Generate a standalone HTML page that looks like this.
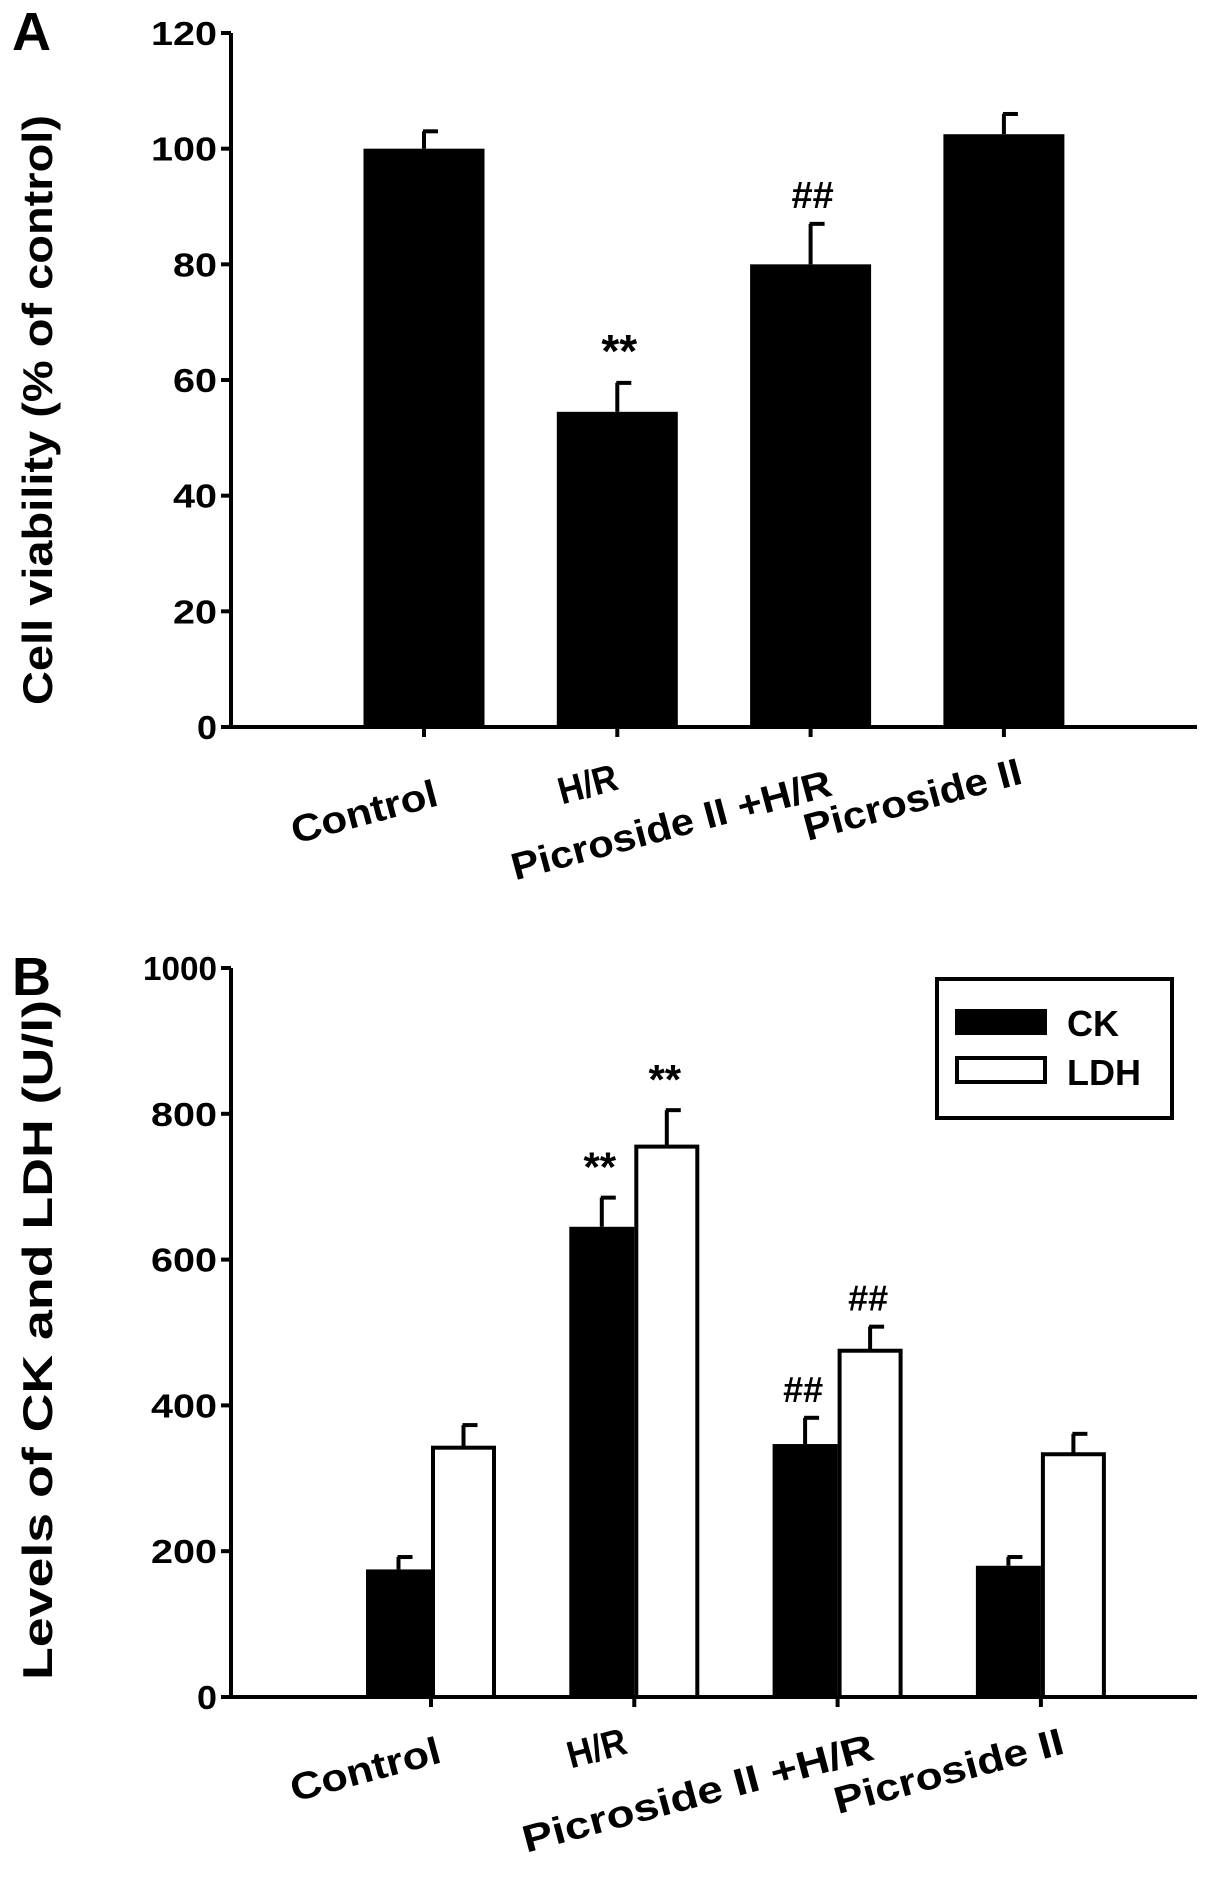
<!DOCTYPE html>
<html><head><meta charset="utf-8"><style>
html,body{margin:0;padding:0;background:#fff;}
svg{display:block;}
text{font-family:"Liberation Sans",sans-serif;font-weight:bold;fill:#000;}
</style></head><body>
<svg id="fig" width="1205" height="1880" viewBox="0 0 1205 1880" xmlns="http://www.w3.org/2000/svg"></svg>
<script>
const catsA = ["Control","H/R","Picroside II +H/R","Picroside II"];
const valsA = [100,54.5,80,102.5];
const errA = [3,5,7,3.5];
const sigA = ["","**","##",""];
const ticksA = [0,20,40,60,80,100,120];

const catsB = ["Control","H/R","Picroside II +H/R","Picroside II"];
const ckB = [175,645,347,180];
const ckErr = [17,40,36,12];
const ldhB = [342,755,475,333];
const ldhErr = [31,50,33,28];
const sigCK = ["","**","##",""];
const sigLDH = ["","**","##",""];
const ticksB = [0,200,400,600,800,1000];

const NS="http://www.w3.org/2000/svg";
const svg=document.getElementById('fig');
function mk(tag,attrs,parent,txt){const e=document.createElementNS(NS,tag);for(const k in attrs)e.setAttribute(k,attrs[k]);if(txt!==undefined)e.textContent=txt;(parent||svg).appendChild(e);return e;}
const digitLen={1:20,2:44,3:66,4:74};

// ---------- Panel A ----------
const A={x0:231,x1:1197,y0:727,y1:33,max:120,c0:424,step:193.3,bw:121};
function yA(v){return A.y0-(v/A.max)*(A.y0-A.y1);}
function xA(i){return A.c0+i*A.step;}
const gA=mk('g',{});


let t=mk('text',{x:12,y:50,'font-size':54},gA,'A');


valsA.forEach((v,i)=>{
  const cx=xA(i);
  const ey=yA(v+errA[i]);
  let l=mk('line',{x1:cx,x2:cx,y1:yA(v),y2:ey,stroke:'#000','stroke-width':4},gA);
  
  
  mk('line',{x1:cx-1,x2:cx+14,y1:ey,y2:ey,stroke:'#000','stroke-width':4},gA);
  let r=mk('rect',{x:cx-A.bw/2,y:yA(v),width:A.bw,height:A.y0-yA(v),fill:'#000'},gA);
  
  
  if(sigA[i]){let s=mk('text',{x:cx+2,y:ey-16,'font-size':sigA[i]=='**'?46:38,'text-anchor':'middle','font-weight':sigA[i]=='**'?'bold':'normal'},gA,sigA[i]);
  
  }
});
mk('line',{x1:A.x0,x2:A.x0,y1:A.y1,y2:A.y0+2,stroke:'#000','stroke-width':4},gA);
mk('line',{x1:A.x0-2,x2:A.x1,y1:A.y0,y2:A.y0,stroke:'#000','stroke-width':4},gA);
ticksA.forEach(v=>{
  mk('line',{x1:A.x0-10,x2:A.x0,y1:yA(v),y2:yA(v),stroke:'#000','stroke-width':4},gA);
  let tl=mk('text',{x:A.x0-14,y:yA(v)+12,'font-size':33,'text-anchor':'end',textLength:digitLen[String(v).length],lengthAdjust:'spacingAndGlyphs'},gA,v);
  
  
});
const labA=[[440,805,150],[620,789,60],[834,795,330],[1024,783,224]];
catsA.forEach((c,i)=>{
  const cx=xA(i);
  mk('line',{x1:cx,x2:cx,y1:A.y0,y2:A.y0+10,stroke:'#000','stroke-width':4},gA);
  const [xx,yy,len]=labA[i];
  let tl=mk('text',{x:xx,y:yy,'font-size':38,'text-anchor':'end',textLength:len,lengthAdjust:'spacingAndGlyphs',transform:`rotate(-15 ${xx} ${yy})`},gA,c);
  
  
});
t=mk('text',{x:0,y:0,'font-size':42,'text-anchor':'middle',textLength:590,lengthAdjust:'spacingAndGlyphs',transform:'translate(52,410) rotate(-90)'},gA,'Cell viability (% of control)');



// ---------- Panel B ----------
const B={x0:231,x1:1197,y0:1697,y1:968,max:1000,c0:431,step:203.3,bw:65};
function yB(v){return B.y0-(v/B.max)*(B.y0-B.y1);}
function xB(i){return B.c0+i*B.step;}
const gB=mk('g',{});


t=mk('text',{x:12,y:995,'font-size':54},gB,'B');


function barB(i,v,e,sig,isLdh){
  const cx=xB(i)+(isLdh?B.bw/2:-B.bw/2);
  const ey=yB(v+e);
  mk('line',{x1:cx,x2:cx,y1:yB(v),y2:ey,stroke:'#000','stroke-width':4},gB);
  mk('line',{x1:cx-1,x2:cx+14,y1:ey,y2:ey,stroke:'#000','stroke-width':4},gB);
  let r;
  if(isLdh) r=mk('rect',{x:cx-B.bw/2+2,y:yB(v),width:B.bw-4,height:B.y0-yB(v),fill:'#fff',stroke:'#000','stroke-width':4},gB);
  else r=mk('rect',{x:cx-B.bw/2,y:yB(v),width:B.bw,height:B.y0-yB(v),fill:'#000'},gB);
  
  
  if(sig){let s=mk('text',{x:cx-2,y:ey-16,'font-size':sig=='**'?42:36,'text-anchor':'middle','font-weight':sig=='**'?'bold':'normal'},gB,sig);
  
  }
}
ckB.forEach((v,i)=>barB(i,v,ckErr[i],sigCK[i],false));
ldhB.forEach((v,i)=>barB(i,v,ldhErr[i],sigLDH[i],true));
mk('line',{x1:B.x0,x2:B.x0,y1:B.y1,y2:B.y0+2,stroke:'#000','stroke-width':4},gB);
mk('line',{x1:B.x0-2,x2:B.x1,y1:B.y0,y2:B.y0,stroke:'#000','stroke-width':4},gB);
ticksB.forEach(v=>{
  mk('line',{x1:B.x0-10,x2:B.x0,y1:yB(v),y2:yB(v),stroke:'#000','stroke-width':4},gB);
  let tl=mk('text',{x:B.x0-14,y:yB(v)+12,'font-size':33,'text-anchor':'end',textLength:digitLen[String(v).length],lengthAdjust:'spacingAndGlyphs'},gB,v);
  
  
});
const labB=[[443,1762,154],[629,1753,60],[876,1759,362],[1066,1753,236]];
catsB.forEach((c,i)=>{
  const cx=xB(i);
  mk('line',{x1:cx,x2:cx,y1:B.y0,y2:B.y0+10,stroke:'#000','stroke-width':4},gB);
  const [xx,yy,len]=labB[i];
  let tl=mk('text',{x:xx,y:yy,'font-size':38,'text-anchor':'end',textLength:len,lengthAdjust:'spacingAndGlyphs',transform:`rotate(-15 ${xx} ${yy})`},gB,c);
  
  
});
t=mk('text',{x:0,y:0,'font-size':42,'text-anchor':'middle',textLength:680,lengthAdjust:'spacingAndGlyphs',transform:'translate(52,1340) rotate(-90)'},gB,'Levels of CK and LDH (U/l)');


const lg=mk('g',{},gB);


mk('rect',{x:937,y:979,width:235,height:139,fill:'#fff',stroke:'#000','stroke-width':4},lg);
mk('rect',{x:955,y:1009,width:92,height:26,fill:'#000'},lg);
mk('rect',{x:957,y:1058,width:88,height:24,fill:'#fff',stroke:'#000','stroke-width':4},lg);
t=mk('text',{x:1067,y:1036,'font-size':36,'font-weight':'normal'},lg,'CK');


t=mk('text',{x:1067,y:1085,'font-size':36,'font-weight':'normal'},lg,'LDH');


</script>
</body></html>
